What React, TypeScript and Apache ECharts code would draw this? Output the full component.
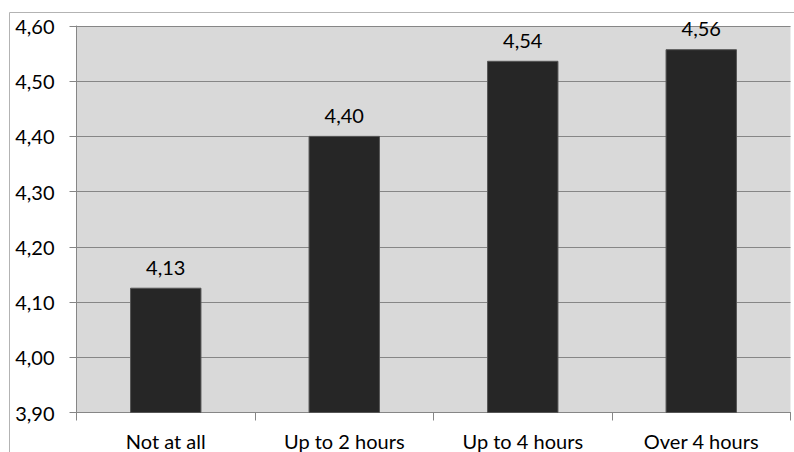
import React, { useEffect, useRef } from "react";
import * as echarts from "echarts";

const categories = ["Not at all", "Up to 2 hours", "Up to 4 hours", "Over 4 hours"];
const values = [4.126, 4.401, 4.537, 4.558];
const yMin = 3.9;
const yMax = 4.6;
const yStep = 0.1;

const FONT = "Lato";

export default function App() {
  const ref = useRef<HTMLDivElement>(null);
  useEffect(() => {
    if (!ref.current) return;
    const chart = echarts.init(ref.current, undefined, { renderer: "svg" });
    const fmt = (v: number) => v.toFixed(2).replace(".", ",");
    chart.setOption({
      animation: false,
      backgroundColor: "#ffffff",
      textStyle: { fontFamily: FONT },
      grid: {
        left: 76.5,
        right: 3.5,
        top: 26,
        bottom: 39.5,
        containLabel: false,
        outerBoundsMode: "none",
        show: true,
        backgroundColor: "#d9d9d9",
        borderWidth: 0,
      },
      graphic: [
        {
          type: "line",
          shape: { x1: 9.5, y1: 12.5, x2: 794, y2: 12.5 },
          style: { stroke: "#b3b3b3", lineWidth: 1 },
          z: -1,
        },
        {
          type: "line",
          shape: { x1: 9.5, y1: 12.5, x2: 9.5, y2: 452 },
          style: { stroke: "#b3b3b3", lineWidth: 1 },
          z: -1,
        },
      ],
      xAxis: {
        type: "category",
        data: categories,
        axisLine: { show: true, lineStyle: { color: "#868686", width: 1 } },
        axisTick: { show: true, length: 8, lineStyle: { color: "#868686" } },
        axisLabel: { color: "#000", fontSize: 20, fontFamily: FONT, margin: 18 },
        splitLine: { show: false },
      },
      yAxis: {
        type: "value",
        min: yMin,
        max: yMax,
        interval: yStep,
        axisLine: { show: true, lineStyle: { color: "#868686", width: 1 } },
        axisTick: { show: true, length: 7, lineStyle: { color: "#868686" } },
        axisLabel: {
          color: "#000",
          fontSize: 20,
          fontFamily: FONT,
          margin: 22,
          formatter: (v: number) => fmt(v),
        },
        splitLine: { show: true, lineStyle: { color: "#868686", width: 1 } },
      },
      series: [
        {
          type: "bar",
          data: values,
          barWidth: "40%",
          itemStyle: { color: "#262626", borderColor: "#555555", borderWidth: 1 },
          label: {
            show: true,
            position: "top",
            distance: 11,
            color: "#000",
            fontSize: 20,
            fontFamily: FONT,
            formatter: (p: any) => fmt(p.value),
          },
        },
      ],
    });
    return () => chart.dispose();
  }, []);
  return (
    <div
      ref={ref}
      style={{ position: "fixed", left: 0, top: 0, width: 794, height: 452 }}
    />
  );
}
